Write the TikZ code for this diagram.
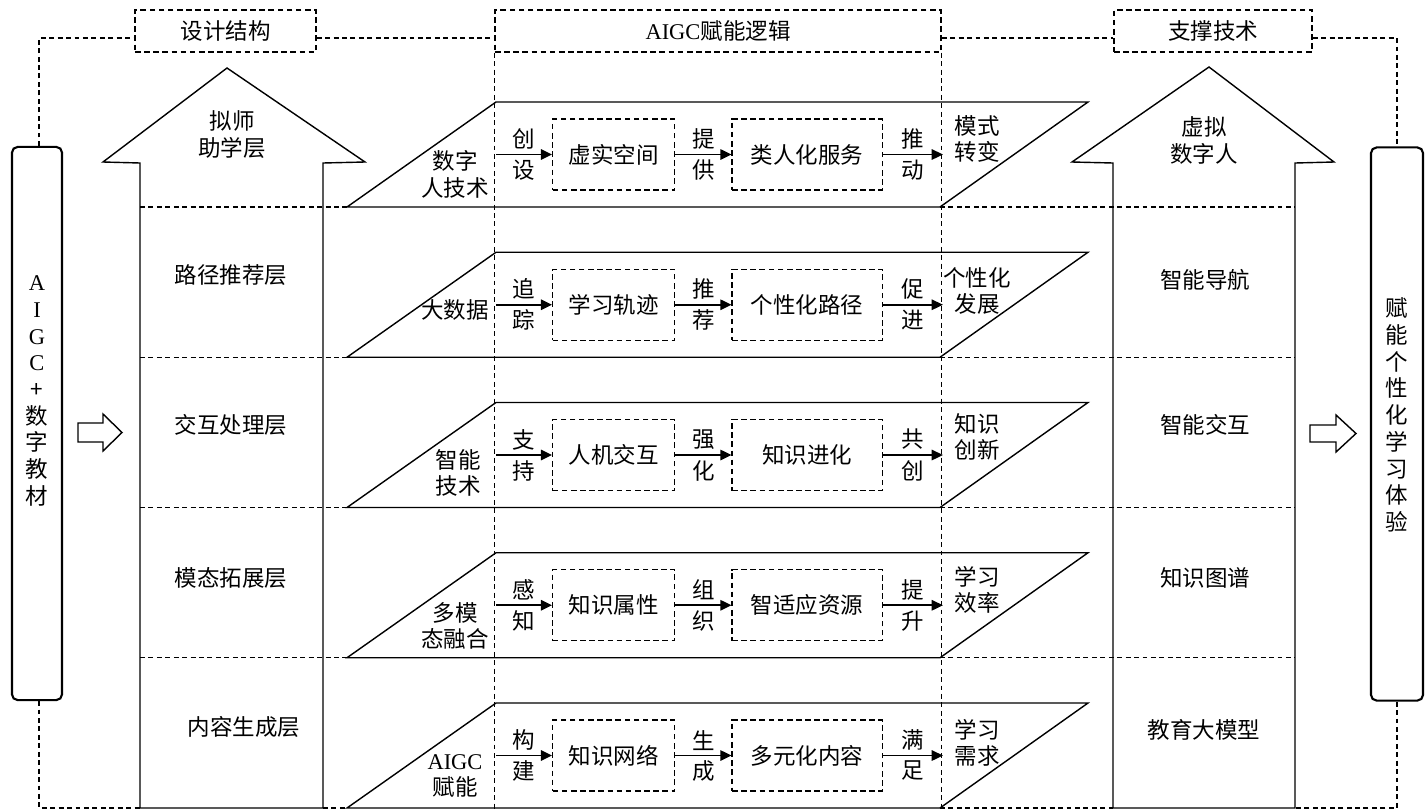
\documentclass[tikz,border=0pt]{standalone}
\usepackage{fontspec}
\setmainfont{Noto Sans CJK SC}
\newfontfamily\latinfont{Liberation Serif}
\usepackage{tikz}
\usetikzlibrary{positioning}
\usetikzlibrary{arrows.meta}

\tikzset{
    every node/.style={font=\fontsize{16}{19}\selectfont, inner sep=3pt},
    headbox/.style={draw, dash pattern=on 4pt off 2.5pt, line width=1pt, minimum height=1.05cm},
    stagebox/.style={draw, dash pattern=on 4pt off 2.5pt, line width=1pt, minimum width=3.05cm, minimum height=1.775cm},
    widebox/.style={stagebox, minimum width=3.75cm},
    barbox/.style={draw, line width=1.5pt, rounded corners=4pt, minimum width=1.25cm, minimum height=13.825cm},
    rowtext/.style={align=center},
    outline/.style={draw, line width=1pt},
    plane/.style={draw, line width=1pt},
    dashlink/.style={draw, dash pattern=on 3.5pt off 2.5pt, line width=0.8pt},
    flowarrow/.style={draw, line width=1.4pt, -{Triangle[length=2.8mm,width=2.6mm]}},
    node distance=1.4cm
}

\begin{document}
\begin{tikzpicture}[x=0.025cm, y=-0.025cm]
    \useasboundingbox (0,0) rectangle (1428,810);

    % Define nodes
    \node[headbox, minimum width=4.525cm] (design)  at (225.5,31) {设计结构};
    \node[headbox, minimum width=11.15cm] (logic)   at (718,31)   {{\latinfont AIGC}赋能逻辑};
    \node[headbox, minimum width=4.95cm]  (support) at (1213,31)  {支撑技术};
    \node[barbox]                      (src) at (37,423.5) {};
    \node[barbox, minimum width=1.3cm] (dst) at (1397,424) {};
    \node[rowtext] (srctext) at (37,391)   {{\latinfont A}\\{\latinfont I}\\{\latinfont G}\\{\latinfont C}\\+\\数\\字\\教\\材};
    \node[rowtext] (dsttext) at (1397,415) {赋\\能\\个\\性\\化\\学\\习\\体\\验};
    \coordinate (lfoot) at (140,808);
    \coordinate (rfoot) at (1295,808);

    % Hollow arrows
    \draw[outline] (78,423) -- (103,423) -- (103,414) -- (122,432.5) -- (103,451) -- (103,442) -- (78,442) -- cycle;
    \draw[outline] (1310,425) -- (1336,425) -- (1336,415) -- (1356,433.5) -- (1336,452) -- (1336,442) -- (1310,442) -- cycle;

    % Layer arrows
    \draw[outline] (140,808) -- (140,163) -- (103,162) -- (227,68) -- (365,162) -- (323,163) -- (323,808) -- cycle;
    \draw[outline] (1113,808) -- (1113,163) -- (1072,162) -- (1209,67) -- (1334,162) -- (1295,163) -- (1295,808) -- cycle;
    \node[rowtext] (tutor)    at (232,134.5) {拟师\\助学层};
    \node          (route)    at (231,275)   {路径推荐层};
    \node          (interact) at (231,425)   {交互处理层};
    \node          (modal)    at (231,578)   {模态拓展层};
    \node          (content)  at (244,727)   {内容生成层};
    \node[rowtext] (avatar)   at (1204,140.5) {虚拟\\数字人};
    \node          (nav)      at (1205,280)  {智能导航};
    \node          (dialog)   at (1205,425)  {智能交互};
    \node          (graph)    at (1205,578)  {知识图谱};
    \node          (model)    at (1204,730)  {教育大模型};

    % Layer separators
    \draw[dashlink] (140,207) -- (347,207);
    \draw[dashlink] (940,207) -- (1295,207);
    \draw[dashlink] (140,357.25) -- (347,357.25);
    \draw[dashlink] (940,357.25) -- (1295,357.25);
    \draw[dashlink] (140,507.5) -- (347,507.5);
    \draw[dashlink] (940,507.5) -- (1295,507.5);
    \draw[dashlink] (140,657.75) -- (347,657.75);
    \draw[dashlink] (940,657.75) -- (1295,657.75);
    \draw[dashlink] (323,808) -- (347,808);
    \draw[dashlink] (940,808) -- (1113,808);

    % Row 1
    \draw[plane] (347,207) -- (496,102) -- (1088,102) -- (940,207) -- cycle;
    \coordinate (in1) at (496,154.5);
    \node[stagebox, right=of in1] (a1) {虚实空间};
    \node[widebox, right=of a1]   (b1) {类人化服务};
    \coordinate[right=1.5cm of b1] (out1);
    \node[rowtext] (src1) at (455,174.5) {数字\\人技术};
    \node[rowtext] (res1) at (977,139)   {模式\\转变};

    % Row 2
    \draw[plane] (347,357.25) -- (496,252.25) -- (1088,252.25) -- (940,357.25) -- cycle;
    \coordinate (in2) at (496,304.75);
    \node[stagebox, right=of in2] (a2) {学习轨迹};
    \node[widebox, right=of a2]   (b2) {个性化路径};
    \coordinate[right=1.5cm of b2] (out2);
    \node[rowtext] (src2) at (455,310) {大数据};
    \node[rowtext] (res2) at (977,291) {个性化\\发展};

    % Row 3
    \draw[plane] (347,507.5) -- (496,402.5) -- (1088,402.5) -- (940,507.5) -- cycle;
    \coordinate (in3) at (496,455);
    \node[stagebox, right=of in3] (a3) {人机交互};
    \node[widebox, right=of a3]   (b3) {知识进化};
    \coordinate[right=1.5cm of b3] (out3);
    \node[rowtext] (src3) at (458,473) {智能\\技术};
    \node[rowtext] (res3) at (977,437) {知识\\创新};

    % Row 4
    \draw[plane] (347,657.75) -- (496,552.75) -- (1088,552.75) -- (940,657.75) -- cycle;
    \coordinate (in4) at (496,605.25);
    \node[stagebox, right=of in4] (a4) {知识属性};
    \node[widebox, right=of a4]   (b4) {智适应资源};
    \coordinate[right=1.5cm of b4] (out4);
    \node[rowtext] (src4) at (455,626) {多模\\态融合};
    \node[rowtext] (res4) at (977,590) {学习\\效率};

    % Row 5
    \draw[plane] (347,808) -- (496,703) -- (1088,703) -- (940,808) -- cycle;
    \coordinate (in5) at (496,755.5);
    \node[stagebox, right=of in5] (a5) {知识网络};
    \node[widebox, right=of a5]   (b5) {多元化内容};
    \coordinate[right=1.5cm of b5] (out5);
    \node[rowtext] (src5) at (455,776) {{\latinfont AIGC}\\赋能};
    \node[rowtext] (res5) at (977,743) {学习\\需求};

    % Connect the nodes
    \draw[dashlink] ([xshift=0.05cm]src.north) |- ([yshift=-1.75mm]design.west);
    \draw[dashlink] ([yshift=-1.75mm]design.east) -- ([yshift=-1.75mm]logic.west);
    \draw[dashlink] ([yshift=-1.75mm]logic.east) -- ([yshift=-1.75mm]support.west);
    \draw[dashlink] ([yshift=-1.75mm]support.east) -| (dst.north);
    \draw[dashlink] ([xshift=0.05cm]src.south) |- (lfoot);
    \draw[dashlink] (dst.south) |- (rfoot);
    \draw[dashlink] (logic.south west) -- ++(0,756);
    \draw[dashlink] (logic.south east) -- ++(0,756);

    \draw[flowarrow] (in1) -- node[above] {创} node[below] {设} (a1);
    \draw[flowarrow] (a1) -- node[above] {提} node[below] {供} (b1);
    \draw[flowarrow] (b1) -- node[above] {推} node[below] {动} (out1);
    \draw[flowarrow] (in2) -- node[above] {追} node[below] {踪} (a2);
    \draw[flowarrow] (a2) -- node[above] {推} node[below] {荐} (b2);
    \draw[flowarrow] (b2) -- node[above] {促} node[below] {进} (out2);
    \draw[flowarrow] (in3) -- node[above] {支} node[below] {持} (a3);
    \draw[flowarrow] (a3) -- node[above] {强} node[below] {化} (b3);
    \draw[flowarrow] (b3) -- node[above] {共} node[below] {创} (out3);
    \draw[flowarrow] (in4) -- node[above] {感} node[below] {知} (a4);
    \draw[flowarrow] (a4) -- node[above] {组} node[below] {织} (b4);
    \draw[flowarrow] (b4) -- node[above] {提} node[below] {升} (out4);
    \draw[flowarrow] (in5) -- node[above] {构} node[below] {建} (a5);
    \draw[flowarrow] (a5) -- node[above] {生} node[below] {成} (b5);
    \draw[flowarrow] (b5) -- node[above] {满} node[below] {足} (out5);
\end{tikzpicture}
\end{document}
